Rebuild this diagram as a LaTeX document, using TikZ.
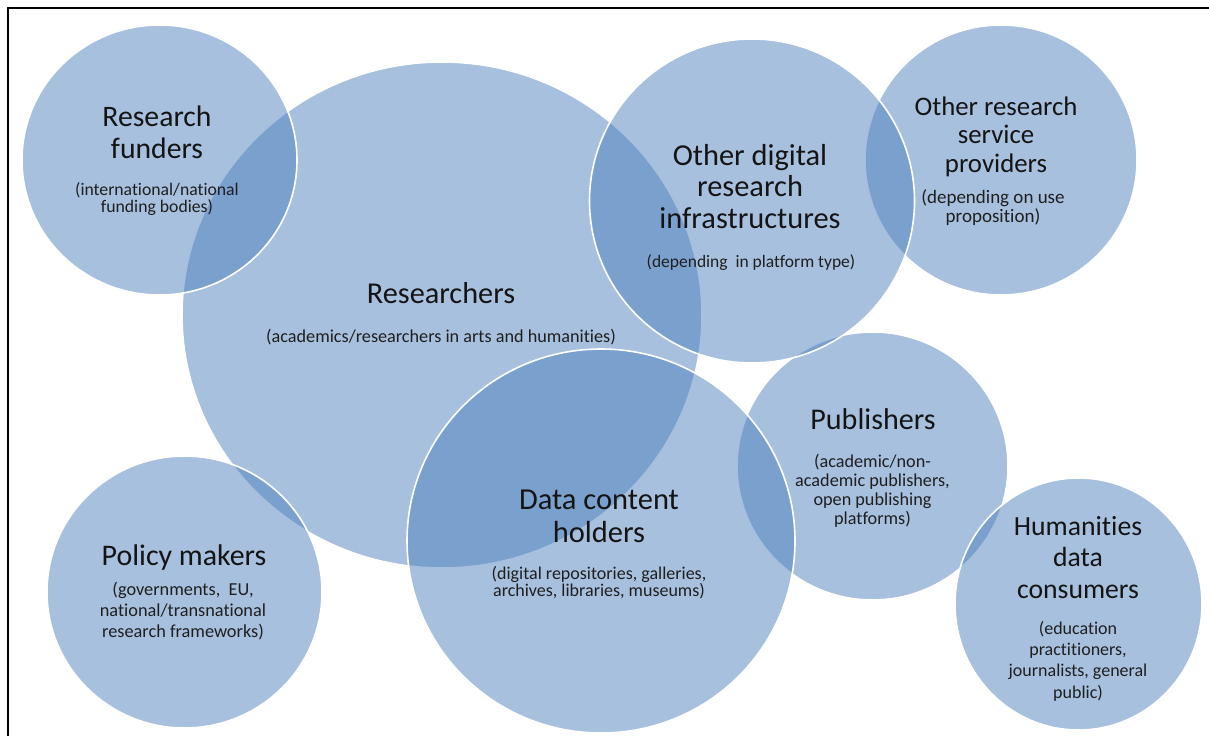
\documentclass[tikz,border=0pt]{standalone}
\usepackage{fontspec}
\setmainfont[Ligatures=NoCommon]{Carlito}
\usetikzlibrary{shapes.geometric}
\definecolor{bubblue}{HTML}{4F81BD}
\tikzset{
  bub/.style={ellipse, draw=white, line width=1.6pt, fill=bubblue, fill opacity=0.5,
              inner sep=0pt, outer sep=0pt},
  ttl/.style={anchor=base, align=center, inner sep=0pt, text=black!92},
  sub/.style={anchor=base, align=center, inner sep=0pt, text=black!88},
}
\newcommand{\fs}[2]{\fontsize{#1}{#2}\selectfont}
\begin{document}
\begin{tikzpicture}[x=1pt,y=-1pt]
\useasboundingbox (0,0) rectangle (1209,736);
% frame
\coordinate (fbl) at (8,736);
\coordinate (ftl) at (8,8);
\coordinate (ftr) at (1209,8);
\draw[line width=2pt, black] (fbl) -- (ftl) -- (ftr);

% circles (drawing order matters)
\node[bub, minimum width=520, minimum height=506] (res) at (442,315) {};
\node[bub, minimum width=272, minimum height=270] (orsp) at (1001,160) {};
\node[bub, minimum width=271, minimum height=268] (pub) at (872.5,466) {};
\node[bub, minimum width=325, minimum height=324] (odri) at (752,201) {};
\node[bub, minimum width=275, minimum height=270] (rf) at (159.5,160) {};
\node[bub, minimum width=247, minimum height=252] (hum) at (1078.5,604) {};
\node[bub, minimum width=275, minimum height=272] (pm) at (184.5,592) {};
\node[bub, minimum width=388, minimum height=384] (dch) at (601,541) {};

% texts (anchor = baseline of the last line)
\node[ttl, font=\fs{29.7}{32}] (rf-t) at (157,158) {Research\\funders};
\node[sub, font=\fs{17.7}{15}] (rf-s) at (157,212) {(international/national\\funding bodies)};

\node[ttl, font=\fs{30.3}{32}] (res-t) at (441,303) {Researchers};
\node[sub, font=\fs{18.2}{20}] (res-s) at (441,342) {(academics/researchers in arts and humanities)};

\node[ttl, font=\fs{30.4}{31.5}] (odri-t) at (750,228) {Other digital\\research\\infrastructures};
\node[sub, font=\fs{17.5}{20}] (odri-s) at (751,267) {(depending~ in platform type)};

\node[ttl, font=\fs{26.8}{28.5}] (orsp-t) at (996,172) {Other research\\service\\providers};
\node[sub, font=\fs{19}{19.5}] (orsp-s) at (993,222.5) {(depending on use\\proposition)};

\node[ttl, font=\fs{30.1}{32}] (pub-t) at (873,429) {Publishers};
\node[sub, font=\fs{18.2}{19}] (pub-s) at (872.5,524) {(academic/non-\\academic publishers,\\open publishing\\platforms)};

\node[ttl, font=\fs{27.7}{31.5}] (hum-t) at (1078,598) {Humanities\\data\\consumers};
\node[sub, font=\fs{18}{21.3}] (hum-s) at (1078,698) {(education\\practitioners,\\journalists, general\\public)};

\node[ttl, font=\fs{29.9}{32}] (pm-t) at (184,565) {Policy makers};
\node[sub, font=\fs{18.3}{21}] (pm-s) at (183,637) {(governments,~ EU,\\national/transnational\\research frameworks)};

\node[ttl, font=\fs{30.5}{33}] (dch-t) at (599,542) {Data content\\holders};
\node[sub, font=\fs{18}{17.5}] (dch-s) at (599,596.5) {(digital repositories, galleries,\\archives, libraries, museums)};
\end{tikzpicture}
\end{document}
